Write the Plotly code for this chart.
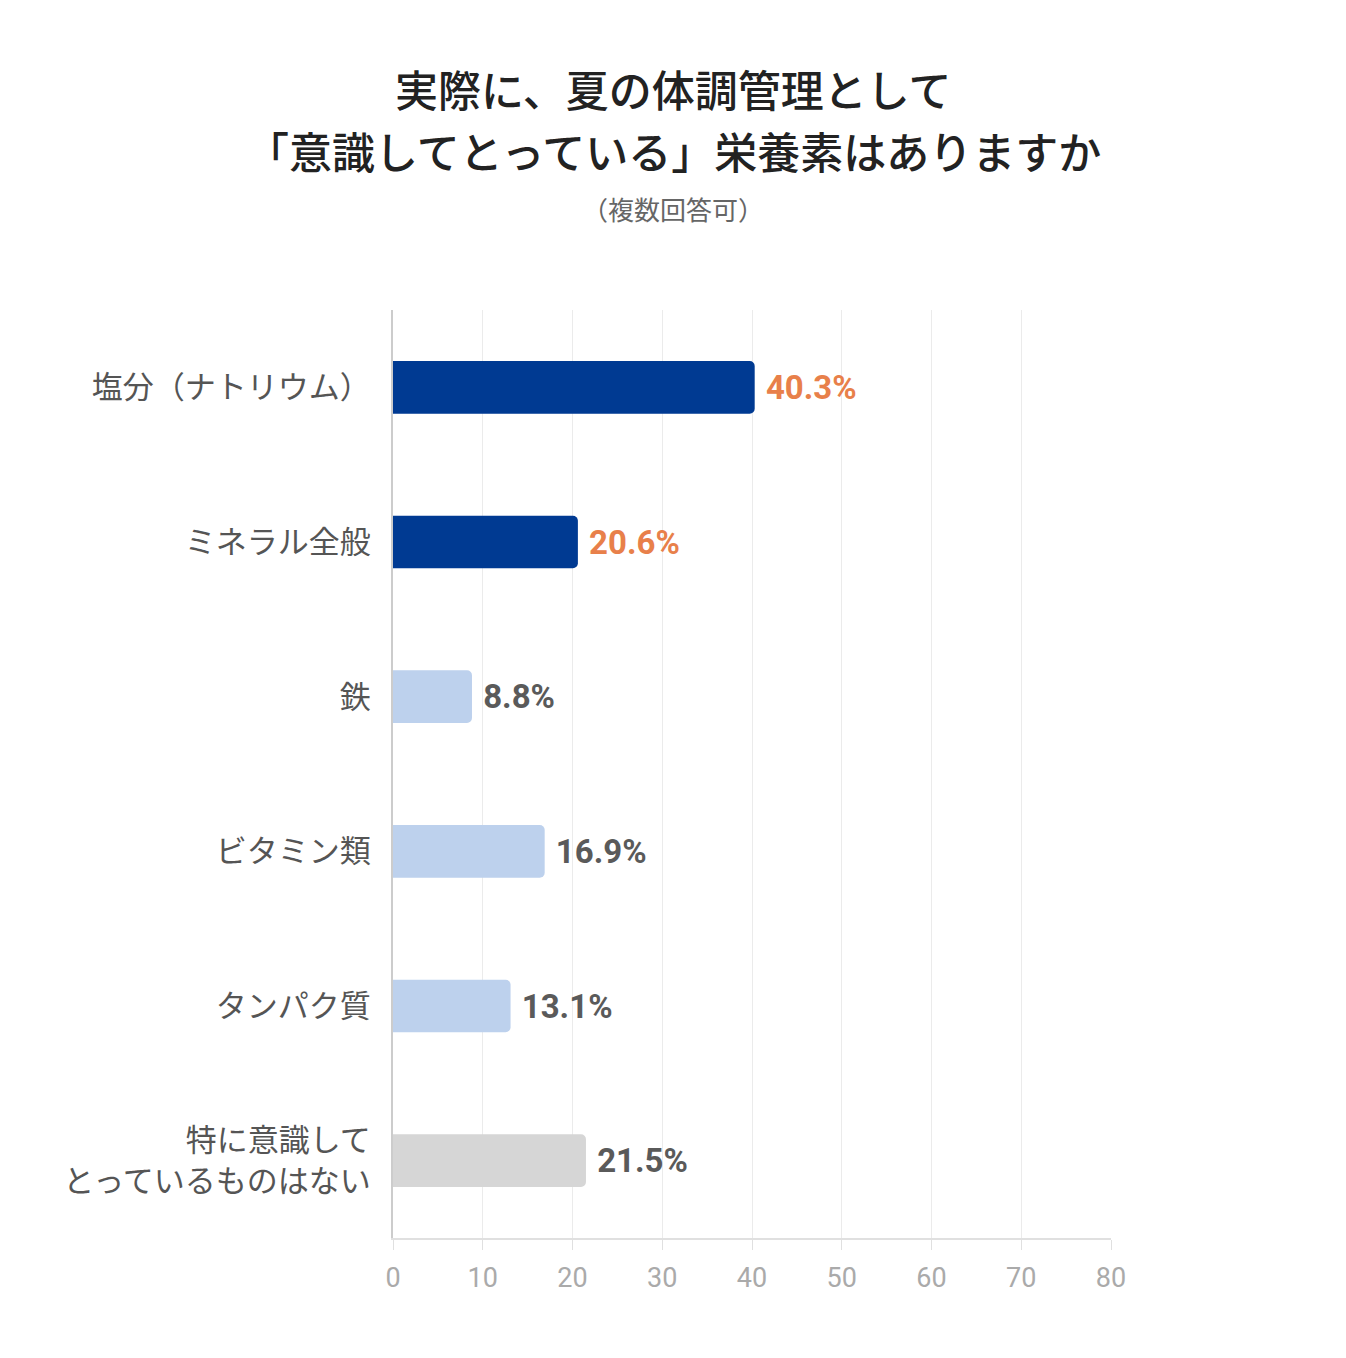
import plotly.graph_objects as go

# Data
categories = ["塩分（ナトリウム）", "ミネラル全般", "鉄", "ビタミン類", "タンパク質",
              "特に意識して<br>とっているものはない"]
values = [40.3, 20.6, 8.8, 16.9, 13.1, 21.5]
bar_colors = ["#003A92", "#003A92", "#BDD1ED", "#BDD1ED", "#BDD1ED", "#D6D6D6"]
label_colors = ["#E8804A", "#E8804A", "#5A5A5A", "#5A5A5A", "#5A5A5A", "#5A5A5A"]
x_ticks = [0, 10, 20, 30, 40, 50, 60, 70, 80]

font_jp = "Noto Sans CJK JP"

W, H = 1346, 1358
ML, MR, MT, MB = 385, 243, 302, 128
OFFSET = 8  # page margin around the figure


def px_x(sx):
    return (sx - OFFSET - ML) / (W - ML - MR)


def px_y(sy):
    return 1 + (MT - (sy - OFFSET)) / (H - MT - MB)


fig = go.Figure(go.Bar(
    x=values,
    y=categories,
    orientation="h",
    marker=dict(color=bar_colors, cornerradius=5, line=dict(width=0)),
    text=[f"\u00a0<b>{v}%</b>" for v in values],
    textposition="outside",
    textfont=dict(color=label_colors, size=33, family="Roboto"),
    cliponaxis=False,
    hoverinfo="skip",
))

title_lines = [
    ("実際に、夏の体調管理として", 88, 43, "#222222"),
    ("「意識してとっている」栄養素はありますか", 150, 43, "#222222"),
    ("（複数回答可）", 208, 26, "#666666"),
]

fig.update_layout(
    width=W,
    height=H,
    paper_bgcolor="white",
    plot_bgcolor="white",
    margin=dict(l=ML, r=MR, t=MT, b=MB),
    bargap=0.66,
    showlegend=False,
    font=dict(family=font_jp),
    annotations=[
        dict(text=t, x=px_x(673), y=px_y(yc), xref="paper", yref="paper",
             xanchor="center", yanchor="middle", showarrow=False,
             font=dict(size=s, color=c, family=font_jp,
                       weight=500 if s > 30 else 400))
        for t, yc, s, c in title_lines
    ],
)

fig.update_xaxes(
    range=[0, 80],
    tickvals=x_ticks,
    showgrid=True,
    gridcolor="#EBEBEB",
    gridwidth=1,
    zeroline=False,
    showline=True,
    linecolor="#E0E0E0",
    linewidth=2,
    ticks="outside",
    ticklen=10,
    tickcolor="#E0E0E0",
    ticklabelstandoff=5,
    tickfont=dict(size=27, color="#AAAAAA", family="Roboto"),
    fixedrange=True,
)
fig.update_yaxes(
    autorange="reversed",
    showline=True,
    linecolor="#CCCCCC",
    linewidth=2,
    showgrid=False,
    ticks="",
    ticklabelstandoff=14,
    tickfont=dict(size=31, color="#555555", family=font_jp),
    fixedrange=True,
)

fig.write_html("out.html")
